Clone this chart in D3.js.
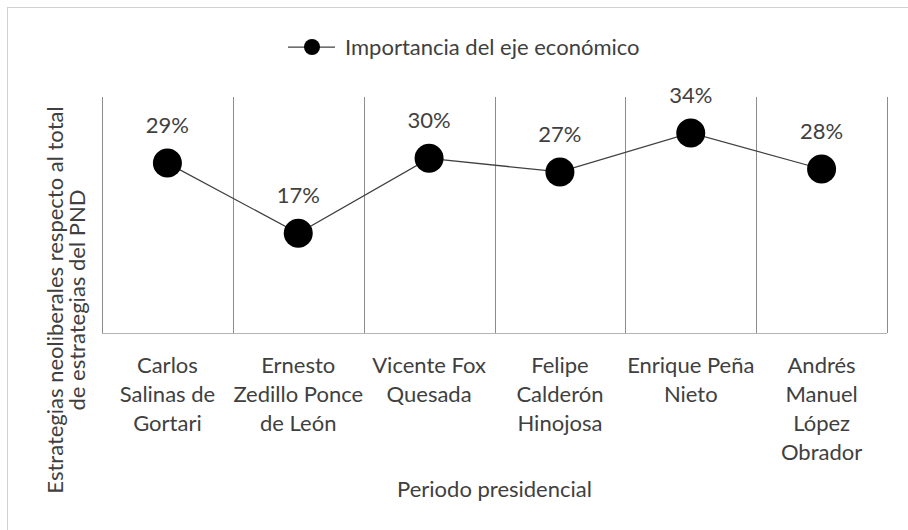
<!DOCTYPE html>
<html>
<head>
<meta charset="utf-8">
<script src="https://cdn.jsdelivr.net/npm/d3@7"></script>
<style>
    body { margin: 0; background: #fff; }
    svg text { font-family: Lato, "Open Sans", sans-serif; fill: #404040; }
</style>
</head>
<body>
<svg id="chart" width="908" height="530"></svg>
<script>
// data
var presidents = ["Carlos Salinas de Gortari", "Ernesto Zedillo Ponce de León", "Vicente Fox Quesada",
    "Felipe Calderón Hinojosa", "Enrique Peña Nieto", "Andrés Manuel López Obrador"];
var tickLines = [
    ["Carlos", "Salinas de", "Gortari"],
    ["Ernesto", "Zedillo Ponce", "de León"],
    ["Vicente Fox", "Quesada"],
    ["Felipe", "Calderón", "Hinojosa"],
    ["Enrique Peña", "Nieto"],
    ["Andrés", "Manuel", "López", "Obrador"]
];
var importancia = [0.288, 0.169, 0.296, 0.273, 0.339, 0.278];
var seriesName = "Importancia del eje económico";
var xTitle = "Periodo presidencial";
var yTitle = ["Estrategias neoliberales respecto al total", "de estrategias del PND"];

var svg = d3.select("#chart");
var margin = { top: 97, left: 102, right: 21, bottom: 197 };
var plotWidth = 908 - margin.left - margin.right,
    plotHeight = 530 - margin.top - margin.bottom;
var fontSize = 22;

// outer frame (right and bottom run off the picture)
svg.append("rect")
    .attr("x", 7.5).attr("y", 7.5)
    .attr("width", 920).attr("height", 540)
    .attr("fill", "none")
    .attr("stroke", "#d0d0d0");

var x = d3.scaleBand()
    .domain(presidents)
    .range([0, plotWidth]);
var y = d3.scaleLinear()
    .domain([0, 0.4])
    .range([plotHeight, 0]);

var plot = svg.append("g")
    .attr("transform", "translate(" + margin.left + "," + margin.top + ")");

// vertical separators between categories
var bounds = presidents.map(function (d) { return x(d); }).concat([plotWidth]);
plot.append("g").selectAll("line")
    .data(bounds)
    .enter()
    .append("line")
    .attr("x1", function (d) { return Math.round(d) + 0.5; })
    .attr("x2", function (d) { return Math.round(d) + 0.5; })
    .attr("y1", y(0.4))
    .attr("y2", y(0))
    .attr("stroke", "#8c8c8c");

// bottom axis
var xAxis = d3.axisBottom(x).tickSize(0).tickFormat("");
var xGroup = plot.append("g")
    .attr("transform", "translate(0," + y(0) + ")")
    .call(xAxis);
xGroup.select(".domain").attr("stroke", "#b4b4b4").attr("d", "M0,0.5H" + plotWidth);

xGroup.selectAll(".tick")
    .append("text")
    .attr("text-anchor", "middle")
    .style("font-size", fontSize + "px")
    .each(function (d, i) {
        var t = d3.select(this);
        tickLines[i].forEach(function (line, j) {
            t.append("tspan").attr("x", 0).attr("y", 40 + j * 29).text(line);
        });
    });

// line
var line = d3.line()
    .x(function (d, i) { return x(presidents[i]) + x.bandwidth() / 2; })
    .y(function (d) { return y(d); });
plot.append("path")
    .datum(importancia)
    .attr("d", line)
    .attr("fill", "none")
    .attr("stroke", "#404040")
    .attr("stroke-width", 1.25);

plot.append("g").selectAll("circle")
    .data(importancia)
    .enter()
    .append("circle")
    .attr("cx", function (d, i) { return x(presidents[i]) + x.bandwidth() / 2; })
    .attr("cy", function (d) { return y(d); })
    .attr("r", 14.5)
    .attr("fill", "#000");

plot.append("g").selectAll("text")
    .data(importancia)
    .enter()
    .append("text")
    .attr("x", function (d, i) { return x(presidents[i]) + x.bandwidth() / 2; })
    .attr("y", function (d) { return y(d) - 30; })
    .attr("text-anchor", "middle")
    .style("font-size", fontSize + "px")
    .text(function (d) { return d3.format(".0%")(d); });

// legend
var legend = svg.append("g").attr("transform", "translate(288,47)");
legend.append("line")
    .attr("x1", 0).attr("x2", 47)
    .attr("stroke", "#404040").attr("stroke-width", 1.25);
legend.append("circle").attr("cx", 24).attr("r", 8).attr("fill", "#000");
legend.append("text")
    .attr("x", 57).attr("y", 8)
    .style("font-size", fontSize + "px")
    .text(seriesName);

// axis titles
svg.append("text")
    .attr("x", margin.left + plotWidth / 2)
    .attr("y", 497)
    .attr("text-anchor", "middle")
    .style("font-size", fontSize + "px")
    .text(xTitle);

var yt = svg.append("text")
    .attr("transform", "translate(63,300) rotate(-90)")
    .attr("text-anchor", "middle")
    .style("font-size", fontSize + "px");
yTitle.forEach(function (t, i) {
    yt.append("tspan").attr("x", 0).attr("y", i * 22).text(t);
});
</script>
</body>
</html>
